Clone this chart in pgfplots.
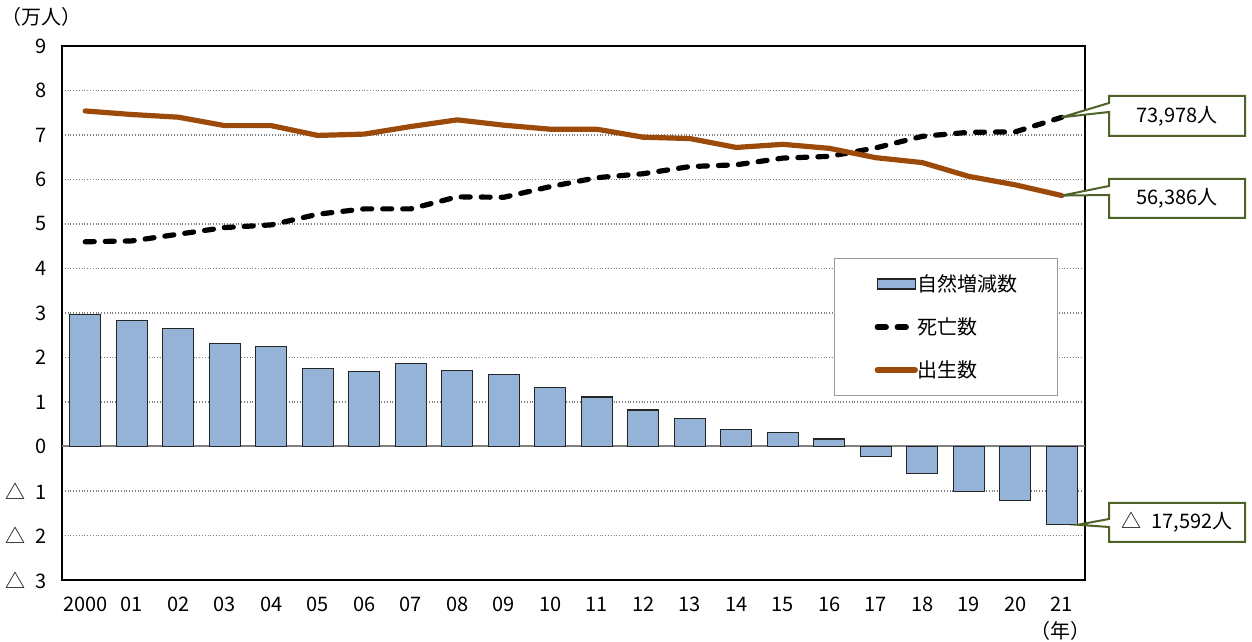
\documentclass[border=0pt]{standalone}
\usepackage{pgfplots}
\pgfplotsset{compat=1.18}
\usepackage{pgfplotstable}
\usepackage{fontspec}
\setmainfont{Noto Sans CJK JP}
\definecolor{barblue}{HTML}{95B3D7}
\definecolor{birthbrown}{HTML}{9C4A0A}
\definecolor{olivebox}{HTML}{4F6228}

\pgfplotsset{
  barleg/.style={legend image code/.code={\draw[##1] (0pt,-2.5pt) rectangle (19pt,2.5pt);}},
  lineleg/.style={legend image code/.code={\draw[##1] (0pt,0pt) -- (19pt,0pt);}},
}
\newcommand{\tri}{△\hspace{5pt}}

% x: 2000 = 0 ... 2021 = 21, values in 10,000 persons
\pgfplotstableread{
x nat birth death
0 2.96 7.54 4.60
1 2.84 7.46 4.62
2 2.65 7.40 4.77
3 2.32 7.21 4.92
4 2.24 7.21 4.98
5 1.75 6.99 5.22
6 1.69 7.02 5.34
7 1.86 7.19 5.34
8 1.71 7.34 5.61
9 1.62 7.22 5.60
10 1.32 7.13 5.84
11 1.11 7.13 6.04
12 0.82 6.95 6.13
13 0.63 6.92 6.29
14 0.38 6.72 6.33
15 0.31 6.79 6.48
16 0.17 6.70 6.52
17 -0.23 6.49 6.71
18 -0.60 6.38 6.97
19 -1.02 6.07 7.06
20 -1.21 5.88 7.07
21 -1.7592 5.6386 7.3978
}\datatable

\begin{document}
\begin{tikzpicture}[font=\fontsize{10}{12}\selectfont]
\begin{axis}[
  at={(31pt,31pt)}, anchor=south west,
  scale only axis, width=511.5pt, height=267pt,
  xmin=-0.5, xmax=21.5, ymin=-3, ymax=9,
  xtick={0,...,21},
  xticklabels={2000,01,02,03,04,05,06,07,08,09,10,11,12,13,14,15,16,17,18,19,20,21},
  ytick={-3,...,9},
  yticklabels={\tri 3,\tri 2,\tri 1,0,1,2,3,4,5,6,7,8,9},
  major tick length=0pt,
  ymajorgrids,
  grid style={densely dotted, gray, line width=0.6pt},
  extra y ticks={0}, extra y tick labels={},
  extra y tick style={grid style={solid, gray, line width=1pt}},
  axis line style={black, line width=1pt},
  yticklabel style={xshift=-4pt},
  xticklabel style={yshift=-5pt},
  legend cell align=left,
  legend style={at={(0.7547,0.603)}, anchor=north west, draw=gray!80,
    line width=0.6pt, fill=white, inner xsep=20pt, inner ysep=2pt, row sep=0pt,
    nodes={inner sep=0pt, minimum height=21.5pt},
    /tikz/every even column/.append style={column sep=5pt}},
]
\addplot[ybar, bar width=15.5pt, fill=barblue, draw=black!85, line width=0.6pt, barleg]
  table[x=x, y=nat] {\datatable};
\addlegendentry{自然増減数}
\addplot[black, line width=2.6pt, dash pattern=on 4.5pt off 5.5pt, line cap=round, line join=round, lineleg]
  table[x=x, y=death] {\datatable};
\addlegendentry{死亡数}
\addplot[birthbrown, line width=2.6pt, line cap=round, line join=round, lineleg]
  table[x=x, y=birth] {\datatable};
\addlegendentry{出生数}

\coordinate (p1) at (axis cs:21,7.3978);
\coordinate (p2) at (axis cs:21,5.6386);
\coordinate (p3) at (axis cs:21,-1.7592);
\end{axis}

% callouts
\draw[olivebox, line width=1pt, fill=white] (554.5pt,273pt) -- (622.5pt,273pt) -- (622.5pt,253pt)
  -- (554.5pt,253pt) -- (554.5pt,265pt) -- (p1) -- (554.5pt,269.5pt) -- cycle;
\node at (588.5pt,263pt) {73,978人};
\draw[olivebox, line width=1pt, fill=white] (554.5pt,231.5pt) -- (622.5pt,231.5pt) -- (622.5pt,212pt)
  -- (554.5pt,212pt) -- (554.5pt,223.5pt) -- (p2) -- (554.5pt,228pt) -- cycle;
\node at (588.5pt,221.75pt) {56,386人};
\draw[olivebox, line width=1pt, fill=white] (554.5pt,69.5pt) -- (622.5pt,69.5pt) -- (622.5pt,50pt)
  -- (554.5pt,50pt) -- (554.5pt,57.5pt) -- ([xshift=8pt]p3) -- (554.5pt,61.5pt) -- cycle;
\node at (588.5pt,59.75pt) {\tri 17,592人};

\node at (21pt,312.5pt) {（万人）};
\node at (530pt,5.5pt) {（年）};

\pgfresetboundingbox
\path (0,0) rectangle (626pt,321pt);
\end{tikzpicture}
\end{document}
